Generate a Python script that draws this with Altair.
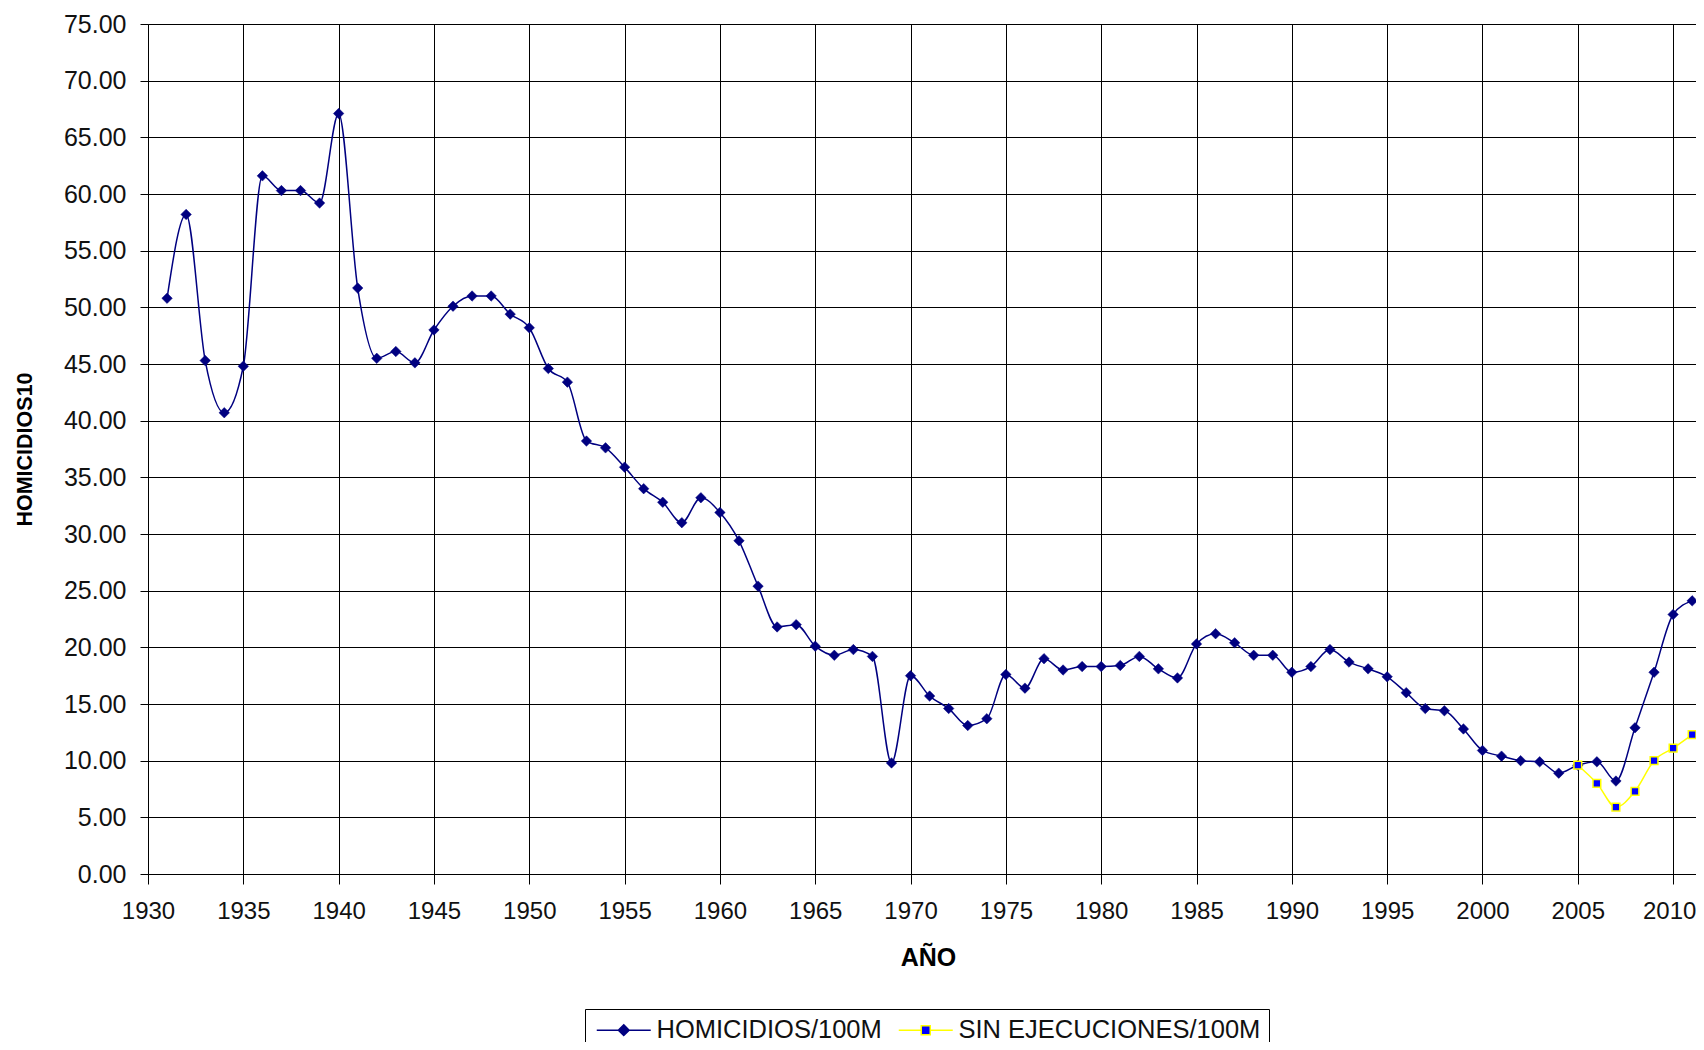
import altair as alt
import pandas as pd

# ---- data ----
years_h = list(range(1931, 2012))
homicidios = [50.8, 58.2, 45.3, 40.7, 44.8, 61.6, 60.3, 60.3, 59.2, 67.1,
              51.7, 45.5, 46.1, 45.1, 48.0, 50.1, 51.0, 51.0, 49.4, 48.2,
              44.6, 43.4, 38.2, 37.6, 35.9, 34.0, 32.8, 31.0, 33.2, 31.9,
              29.4, 25.4, 21.8, 22.0, 20.1, 19.3, 19.8, 19.2, 9.8, 17.5,
              15.7, 14.6, 13.1, 13.7, 17.6, 16.4, 19.0, 18.0, 18.3, 18.3,
              18.4, 19.2, 18.1, 17.3, 20.3, 21.2, 20.4, 19.3, 19.3, 17.8,
              18.3, 19.8, 18.7, 18.1, 17.4, 16.0, 14.6, 14.4, 12.8, 10.9,
              10.4, 10.0, 9.9, 8.9, 9.6, 9.9, 8.2, 12.9, 17.8, 22.9, 24.1]
years_s = list(range(2005, 2012))
sin_ejecuciones = [9.6, 8.0, 5.9, 7.3, 10.0, 11.1, 12.3]

series_names = ["HOMICIDIOS/100M", "SIN EJECUCIONES/100M"]
x_ticks = list(range(1930, 2011, 5))
y_ticks = list(range(0, 76, 5))

NAVY = "#000080"
BLUE = "#0000FF"
YELLOW = "#FFFF00"
FONT = "Liberation Sans, Arial, sans-serif"

df_h = pd.DataFrame({"year": years_h, "value": homicidios, "serie": series_names[0]})
df_s = pd.DataFrame({"year": years_s, "value": sin_ejecuciones, "serie": series_names[1]})
df_leg = pd.DataFrame({"serie": series_names})

x_enc = alt.X(
    "year:Q",
    scale=alt.Scale(domain=[1930, 2011.2], nice=False, zero=False),
    axis=alt.Axis(
        values=x_ticks, format="d", tickSize=10, tickColor="black", domainColor="black",
        gridColor="black", gridWidth=1, labelPadding=15, labelFlush=False, labelOverlap=False,
        labelFont=FONT, labelFontSize=24, labelColor="#111111",
        labelOffset={"condition": {"test": "datum.value === 2010", "value": -4}, "value": 0},
        title="AÑO", titleFont=FONT, titleFontSize=25, titleFontWeight="bold", titleColor="black",
        titleX=780, titleY=83, titleBaseline="middle", titleAlign="center",
    ),
)
y_enc = alt.Y(
    "value:Q",
    scale=alt.Scale(domain=[0, 75], nice=False),
    axis=alt.Axis(
        values=y_ticks, format=".2f", tickSize=8, tickColor="black", domainColor="black",
        gridColor="black", gridWidth=1, labelPadding=14, labelOverlap=False,
        labelFont=FONT, labelFontSize=25, labelColor="#111111",
        title="HOMICIDIOS10", titleFont=FONT, titleFontSize=21.5, titleFontWeight="bold",
        titleColor="black", titleX=-123, titleY=425, titleAngle=270,
        titleBaseline="middle", titleAlign="center",
    ),
)

line_h = alt.Chart(df_h).mark_line(interpolate="monotone", color=NAVY, strokeWidth=1.5).encode(x=x_enc, y=y_enc)
pts_h = alt.Chart(df_h).mark_point(shape="diamond", filled=True, fill=NAVY, stroke=NAVY,
                                   strokeWidth=0.5, size=110, opacity=1).encode(x=x_enc, y=y_enc)
line_s = alt.Chart(df_s).mark_line(interpolate="monotone", color=YELLOW, strokeWidth=1.5).encode(x=x_enc, y=y_enc)
pts_s = alt.Chart(df_s).mark_point(shape="square", filled=True, fill=BLUE, stroke=YELLOW,
                                   strokeWidth=1.5, size=60, opacity=1).encode(x=x_enc, y=y_enc)

# legend-only layer (no rows drawn), symbols = line + marker
sym_paths = [
    "M-1,0H1.4M2.6,0H5M2,-0.6L2.6,0L2,0.6L1.4,0Z",
    "M-1,0H1.5M2.5,0H5M1.5,-0.5H2.5V0.5H1.5Z",
]
leg = alt.Legend(
    title=None, orient="none", legendX=437, legendY=985, direction="horizontal",
    labelFont=FONT, labelFontSize=25.5, labelColor="#111111", labelLimit=0,
    symbolSize=324, symbolStrokeWidth=1.5, labelOffset=38, columnPadding=13,
    padding=8, strokeColor="black", fillColor="white",
)
legend_layer = alt.Chart(df_leg).transform_filter("false").mark_point(filled=True, opacity=1).encode(
    shape=alt.Shape("serie:N", scale=alt.Scale(domain=series_names, range=sym_paths), legend=leg),
    fill=alt.Fill("serie:N", scale=alt.Scale(domain=series_names, range=[NAVY, BLUE]), legend=leg),
    stroke=alt.Stroke("serie:N", scale=alt.Scale(domain=series_names, range=[NAVY, YELLOW]), legend=leg),
)

chart = alt.layer(line_h, pts_h, line_s, pts_s, legend_layer).properties(
    width=1548, height=850,
    autosize=alt.AutoSizeParams(type="none"),
    padding={"left": 140, "top": 16, "right": 0, "bottom": 168},
    background="white",
).configure_view(fill="#C0C0C0", stroke=None)

chart.save("out.html", embed_options={"renderer": "svg", "actions": False})
